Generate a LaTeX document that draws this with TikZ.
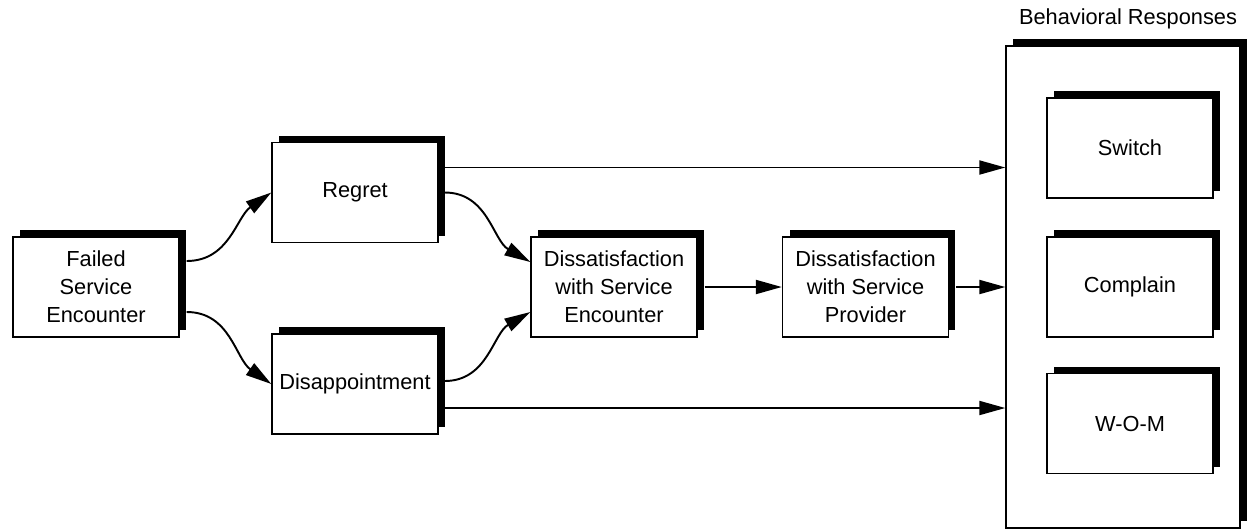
\documentclass[tikz,border=0pt]{standalone}
\usepackage{fontspec}
\setmainfont{Liberation Sans}
\usetikzlibrary{arrows.meta,shadows}

\tikzset{
  box/.style={draw, line width=0.8pt, fill=white, align=center, inner sep=2pt,
    minimum width=3.32cm, minimum height=2cm,
    general shadow={fill=black, shadow xshift=0.14cm, shadow yshift=0.14cm}},
  arr/.style={line width=1.1pt, -{Triangle[length=0.52cm,width=0.28cm]}}
}

\begin{document}
\begin{tikzpicture}[x=0.02cm, y=-0.02cm, font=\fontsize{12.4}{16}\selectfont]
  \useasboundingbox (0,0) rectangle (1248,529);
  %%%%% BOXES %%%%%
  \node[box] (fail) at (96,287) {Failed\\Service\\Encounter};
  \node[box] (regret) at (355,192.5) {Regret};
  \node[box] (disap) at (355,384) {Disappointment};
  \node[box] (dse) at (614,287) {Dissatisfaction\\with Service\\Encounter};
  \node[box] (dsp) at (865.5,287) {Dissatisfaction\\with Service\\Provider};

  \node[box, minimum width=4.68cm, minimum height=9.64cm] (resp) at (1123,287) {};
  \node (title) at (1128,19) {Behavioral Responses};
  \node[box] (switch) at (1130,148) {Switch};
  \node[box] (complain) at (1130,287) {Complain};
  \node[box] (wom) at (1130,423.5) {W-O-M};

  %%%%% ARROWS %%%%%
  \draw[arr] ([shift={(7,-26)}]fail.east) to[out=0,in=215] (regret.west);
  \draw[arr] ([shift={(7,25)}]fail.east) to[out=0,in=145] (disap.west);
  \draw[arr] ([shift={(6,0)}]regret.east) to[out=0,in=150] ([shift={(0,-25)}]dse.west);
  \draw[arr] ([shift={(6,-3)}]disap.east) to[out=0,in=210] ([shift={(0,25)}]dse.west);
  \draw[arr] ([shift={(7,0)}]dse.east) -- (dsp.west);
  \draw[arr] ([shift={(7,0)}]dsp.east) -- (resp.west);

  \coordinate (r-out) at ([shift={(6,-25)}]regret.east);
  \coordinate (d-out) at ([shift={(6,24)}]disap.east);
  \draw[arr] (r-out) -- (r-out -| resp.west);
  \draw[arr] (d-out) -- (d-out -| resp.west);
\end{tikzpicture}
\end{document}
